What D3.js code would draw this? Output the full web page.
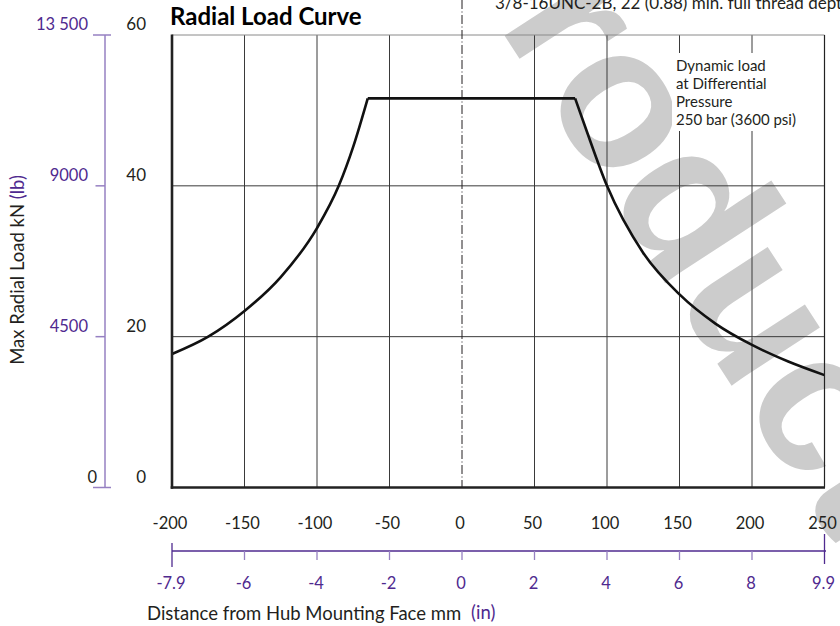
<!DOCTYPE html>
<html>
<head>
<meta charset="utf-8">
<script src="https://cdn.jsdelivr.net/npm/d3@7"></script>
<style>
  html, body { margin: 0; padding: 0; background: #fff; }
  svg { display: block; font-family: Lato, "Open Sans", sans-serif; }
</style>
</head>
<body>
<svg id="chart" width="840" height="626"></svg>
<script>
// Distance ticks (mm) and their paired inch labels
const mmTicks = [-200, -150, -100, -50, 0, 50, 100, 150, 200, 250];
const inchLabels = ["-7.9", "-6", "-4", "-2", "0", "2", "4", "6", "8", "9.9"];

// Load ticks: kN on the chart, lb on the secondary scale
const knTicks = [0, 20, 40, 60];
const lbTicks = [0, 4500, 9000, 13500];
const lbTickLabels = ["0", "4500", "9000", "13 500"];

// Rising part of the load curve (mm, kN)
const riseMM = [-200, -175, -150, -125, -100, -85, -75, -65];
const riseKN = [17.7, 20.0, 23.4, 27.9, 34.4, 40.0, 45.2, 51.6];

// Falling part of the load curve (mm, kN)
const fallMM = [78, 85, 100, 125, 150, 175, 200, 225, 250];
const fallKN = [51.6, 47.8, 40.0, 31.1, 25.6, 21.7, 18.9, 16.7, 14.9];

const noteLines = ["Dynamic load", "at Differential", "Pressure", "250 bar (3600 psi)"];

const svg = d3.select("#chart");
const purple = "#4f2a8f";
const purpleLine = "#9680c2";
const ink = "#231f20";

const x = d3.scaleLinear().domain([-200, 250]).range([172, 824.5]);
const y = d3.scaleLinear().domain([0, 60]).range([487.5, 35]);
const yLb = d3.scaleLinear().domain([0, 13500]).range([487.5, 35]);

// Background watermark
const wm = svg.append("g").attr("transform", "translate(616,112) rotate(57)");
wm.append("text")
  .attr("x", -272).attr("y", 52)
  .attr("font-family", "'Liberation Sans', Arial, sans-serif")
  .attr("font-weight", 700)
  .attr("font-size", 200)
  .attr("fill", "#cccccc")
  .text("Product");

// Clipped note at the top edge
svg.append("text")
  .attr("x", 495).attr("y", 9)
  .attr("font-size", 17).attr("fill", ink)
  .text("3/8-16UNC-2B, 22 (0.88) min. full thread depth");

// Grid
const grid = svg.append("g").attr("stroke", "#3a3a3a").attr("stroke-width", 1).attr("fill", "none");
mmTicks.filter(d => d !== -200 && d !== 0).forEach(d => {
  grid.append("line").attr("x1", x(d)).attr("x2", x(d)).attr("y1", y(60)).attr("y2", y(0));
});
knTicks.filter(d => d !== 0).forEach(d => {
  grid.append("line").attr("x1", x(-200)).attr("x2", x(250)).attr("y1", y(d)).attr("y2", y(d))
    .attr("stroke", d === 60 ? "#8a8a8a" : "#3a3a3a");
});

// Centre line at the hub face
svg.append("line")
  .attr("x1", x(0)).attr("x2", x(0)).attr("y1", 0).attr("y2", y(0))
  .attr("stroke", ink).attr("stroke-width", 1)
  .attr("stroke-dasharray", "9,2.5,1,2.5");

// Note box
svg.append("rect").attr("x", 672).attr("y", 53).attr("width", 126).attr("height", 78).attr("fill", "#fff");
svg.append("g").selectAll("text").data(noteLines).join("text")
  .attr("x", 676).attr("y", (d, i) => 70.5 + i * 18.3)
  .attr("font-size", 15).attr("fill", ink)
  .text(d => d);

// Load curve
const line = d3.line().x(d => x(d[0])).y(d => y(d[1])).curve(d3.curveMonotoneX);
const curveG = svg.append("g").attr("fill", "none").attr("stroke", "#111").attr("stroke-width", 2.6).attr("stroke-linejoin", "miter");
curveG.append("path").attr("d", line(riseMM.map((m, i) => [m, riseKN[i]])));
curveG.append("path").attr("d", d3.line().x(d => x(d[0])).y(d => y(d[1]))([
  [riseMM[riseMM.length - 1], riseKN[riseKN.length - 1]],
  [fallMM[0], fallKN[0]]
]));
curveG.append("path").attr("d", line(fallMM.map((m, i) => [m, fallKN[i]])));

// Frame: heavy left and bottom axes, thin right edge
svg.append("line").attr("x1", x(250)).attr("x2", x(250)).attr("y1", y(60)).attr("y2", y(0))
  .attr("stroke", "#222").attr("stroke-width", 1.2);
svg.append("line").attr("x1", x(-200)).attr("x2", x(-200)).attr("y1", y(60) - 0.5).attr("y2", y(0) + 1.2)
  .attr("stroke", "#222").attr("stroke-width", 2.6);
svg.append("line").attr("x1", x(-200) - 1.3).attr("x2", x(250) + 0.5).attr("y1", y(0)).attr("y2", y(0))
  .attr("stroke", "#222").attr("stroke-width", 2.4);

// kN tick labels
svg.append("g").selectAll("text").data(knTicks).join("text")
  .attr("x", 146).attr("y", d => y(d) - 5)
  .attr("text-anchor", "end").attr("font-size", 17).attr("fill", ink)
  .text(d => d);

// lb axis
const lbAxis = svg.append("g");
lbAxis.append("line").attr("x1", 105).attr("x2", 105).attr("y1", yLb(13500)).attr("y2", yLb(0))
  .attr("stroke", purpleLine).attr("stroke-width", 1.5);
lbTicks.forEach((v, i) => {
  const end = v === 0 || v === 13500;
  lbAxis.append("line")
    .attr("x1", end ? 93 : 95.5).attr("x2", end ? 111 : 105)
    .attr("y1", yLb(v)).attr("y2", yLb(v))
    .attr("stroke", purpleLine).attr("stroke-width", 1.5);
  lbAxis.append("text")
    .attr("x", v === 0 ? 97 : 88).attr("y", yLb(v) - 5)
    .attr("text-anchor", "end").attr("font-size", 16.5)
    .attr("fill", v === 0 ? ink : purple)
    .text(lbTickLabels[i]);
});

// mm tick labels
svg.append("g").selectAll("text").data(mmTicks).join("text")
  .attr("x", d => x(d) - 2).attr("y", 529)
  .attr("text-anchor", "middle").attr("font-size", 16.5).attr("fill", ink)
  .text(d => d);

// inch axis
const inAxis = svg.append("g");
inAxis.append("line").attr("x1", x(-200)).attr("x2", x(250) + 1.5).attr("y1", 551).attr("y2", 551)
  .attr("stroke", purple).attr("stroke-width", 1.3);
mmTicks.forEach((d, i) => {
  let y1 = 551, y2 = 560;
  if (i === 0) { y1 = 543; y2 = 567; }
  if (i === mmTicks.length - 1) { y1 = 534; y2 = 564; }
  inAxis.append("line").attr("x1", x(d)).attr("x2", x(d)).attr("y1", y1).attr("y2", y2)
    .attr("stroke", i === 0 || i === mmTicks.length - 1 ? purple : purpleLine).attr("stroke-width", 1.3);
  inAxis.append("text")
    .attr("x", x(d) - 1).attr("y", 589)
    .attr("text-anchor", "middle").attr("font-size", 16.5).attr("fill", purple)
    .text(inchLabels[i]);
});

// Titles
svg.append("text").attr("x", 170).attr("y", 25)
  .attr("font-size", 24).attr("font-weight", 700).attr("fill", "#000")
  .text("Radial Load Curve");

svg.append("text").attr("x", 147).attr("y", 619.5).attr("font-size", 18.5).attr("fill", ink)
  .text("Distance from Hub Mounting Face mm");
svg.append("text").attr("x", 471).attr("y", 618.5).attr("font-size", 18.5).attr("fill", purple)
  .text("(in)");

const yt = svg.append("text")
  .attr("transform", "translate(23.5,270) rotate(-90)")
  .attr("text-anchor", "middle").attr("font-size", 18.5).attr("fill", ink);
yt.append("tspan").text("Max Radial Load kN ");
yt.append("tspan").attr("fill", purple).text("(lb)");
</script>
</body>
</html>
